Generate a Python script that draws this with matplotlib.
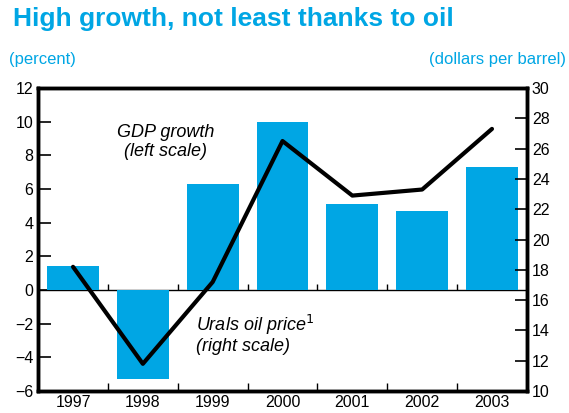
import numpy as np
import matplotlib.pyplot as plt

# Data
years = ["1997", "1998", "1999", "2000", "2001", "2002", "2003"]
gdp_growth = [1.4, -5.3, 6.3, 10.0, 5.1, 4.7, 7.3]       # percent, left scale
urals_price = [18.2, 11.8, 17.2, 26.5, 22.9, 23.3, 27.3]  # dollars per barrel, right scale

blue = "#00A6E4"
plt.rcParams["font.family"] = ["Liberation Sans", "DejaVu Sans"]

fig = plt.figure(figsize=(5.69, 4.13), dpi=100)
ax = fig.add_axes([0.067, 0.053, 0.859, 0.734])

x = np.arange(len(years))
ax.bar(x, gdp_growth, width=0.74, color=blue, zorder=2)
ax.axhline(0, color="black", lw=1.0, zorder=1)
# small separators on the zero line
ax.vlines(x[:-1] + 0.5, 0, 0.35, color="black", lw=1.0, zorder=1)

ax.set_xlim(-0.5, len(years) - 0.5)
ax.set_ylim(-6, 12)
ax.set_yticks(range(-6, 13, 2))
ax.set_yticklabels([str(v).replace("-", "\u2212") for v in range(-6, 13, 2)])
ax.set_xticks(x[:-1] + 0.5, minor=False)
ax.set_xticklabels([])
ax.set_xticks(x, minor=True)
ax.set_xticklabels(years, minor=True)
ax.tick_params(axis="x", which="major", direction="in", length=6, width=1)
ax.tick_params(axis="x", which="minor", length=0, labelsize=11.5, pad=3)
ax.tick_params(axis="y", direction="in", length=9, width=1.2, labelsize=11.5)

ax2 = ax.twinx()
ax2.plot(x, urals_price, color="black", lw=3, zorder=3, solid_capstyle="round")
ax2.set_ylim(10, 30)
ax2.set_yticks(range(10, 31, 2))
ax2.tick_params(axis="y", direction="in", length=9, width=1.2, labelsize=11.5)

for a in (ax, ax2):
    for s in a.spines.values():
        s.set_linewidth(2.5)

ax.text(1.33, 8.8, "GDP growth\n(left scale)", style="italic", fontsize=13,
        ha="center", va="center", linespacing=1.1)
ax.text(1.76, -2.6, "Urals oil price$^1$\n(right scale)", style="italic", fontsize=13,
        ha="left", va="center", linespacing=1.1)

fig.text(0.022, 0.955, "High growth, not least thanks to oil", color=blue,
         fontsize=19, fontweight="bold", ha="left", va="center")
fig.text(0.015, 0.855, "(percent)", color=blue, fontsize=12, ha="left", va="center")
fig.text(0.995, 0.855, "(dollars per barrel)", color=blue, fontsize=12, ha="right", va="center")

fig.savefig("out.png", dpi=100)
